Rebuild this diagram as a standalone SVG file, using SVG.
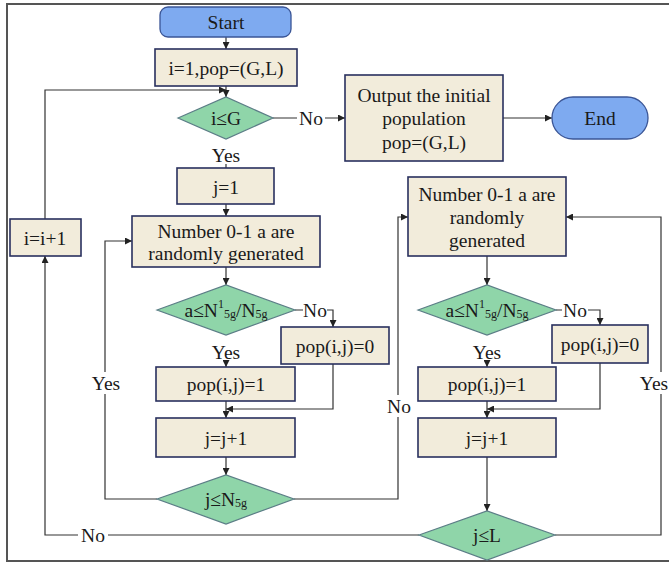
<svg xmlns="http://www.w3.org/2000/svg" width="669" height="563" viewBox="0 0 669 563">
<style>
text{font-family:"Liberation Serif","Times New Roman",serif;font-size:19.5px;fill:#1a1a1a;text-anchor:middle;dominant-baseline:central}
.term{fill:#7eaaf0;stroke:#3a5596;stroke-width:1.3}
.box{fill:#f2ecdb;stroke:#28305e;stroke-width:1.6}
.dec{fill:#8fd5a9;stroke:#5b7d86;stroke-width:1.2}
.ln{fill:none;stroke:#333;stroke-width:1.2}
.lbl{fill:#fff}
.sub{font-size:12px}
</style>
<defs>
<marker id="ah" viewBox="0 0 10 10" refX="10" refY="5" markerWidth="7" markerHeight="7" markerUnits="userSpaceOnUse" orient="auto"><path d="M0,0 L10,5 L0,10 z" fill="#222"/></marker>
</defs>
<rect width="669" height="563" fill="#fff"/>
<path d="M669,4 H7 V561 H669" fill="none" stroke="#555" stroke-width="2"/>

<g id="connectors">
<path class="ln" d="M226,37 V49" marker-end="url(#ah)"/>
<path class="ln" d="M226,86 V97" marker-end="url(#ah)"/>
<path class="ln" d="M45,219 V90 H226" marker-end="url(#ah)"/>
<path class="ln" d="M273,118 H297 M325,118 H345" marker-end="url(#ah)"/>
<path class="ln" d="M503,118 H552" marker-end="url(#ah)"/>
<path class="ln" d="M226,164 V168"/>
<path class="ln" d="M226,204 V216" marker-end="url(#ah)"/>
<path class="ln" d="M226,267 V285" marker-end="url(#ah)"/>
<path class="ln" d="M295,310 H303 M327,310 H333 V327" marker-end="url(#ah)"/>
<path class="ln" d="M226,364 V367" marker-end="url(#ah)"/>
<path class="ln" d="M333,364 V409 H226" marker-end="url(#ah)"/>
<path class="ln" d="M226,401 V418" marker-end="url(#ah)"/>
<path class="ln" d="M226,457 V475" marker-end="url(#ah)"/>
<path class="ln" d="M157,499 H105 V241 H132" marker-end="url(#ah)"/>
<path class="ln" d="M294,499 H398 V217 H408" marker-end="url(#ah)"/>
<path class="ln" d="M487,256 V285" marker-end="url(#ah)"/>
<path class="ln" d="M556,310 H562 M588,310 H600 V325" marker-end="url(#ah)"/>
<path class="ln" d="M487,364 V367" marker-end="url(#ah)"/>
<path class="ln" d="M600,363 V409 H487" marker-end="url(#ah)"/>
<path class="ln" d="M487,401 V418" marker-end="url(#ah)"/>
<path class="ln" d="M487,457 V511" marker-end="url(#ah)"/>
<path class="ln" d="M419,535 H45 V256" marker-end="url(#ah)"/>
<path class="ln" d="M555,535 H661 V217 H566" marker-end="url(#ah)"/>
<text x="311" y="118">No</text>
<text x="226" y="155">Yes</text>
<text x="315" y="310">No</text>
<text x="226" y="352">Yes</text>
<rect class="lbl" x="92" y="372" width="28" height="22"/>
<text x="106" y="383">Yes</text>
<rect class="lbl" x="385" y="395" width="27" height="22"/>
<text x="399" y="406">No</text>
<text x="575" y="310">No</text>
<text x="487" y="352">Yes</text>
<rect class="lbl" x="78" y="524" width="30" height="22"/>
<text x="93" y="535">No</text>
<rect class="lbl" x="640" y="372" width="29" height="22"/>
<text x="654" y="383">Yes</text>
</g>

<g id="start"><rect class="term" x="160" y="7" width="131" height="30" rx="8"/><text x="226" y="22">Start</text></g>
<g id="init"><rect class="box" x="155" y="49" width="142" height="37"/><text x="226" y="68">i=1,pop=(G,L)</text></g>
<g id="cond-i"><path class="dec" d="M178,118 L226,97 L273,118 L226,139 z"/><text x="226" y="118">i≤G</text></g>
<g id="output"><rect class="box" x="345" y="75" width="158" height="86"/><text x="424" y="95">Output the initial</text><text x="424" y="118">population</text><text x="424" y="142">pop=(G,L)</text></g>
<g id="end"><rect class="term" x="552" y="97" width="96" height="42" rx="21"/><text x="600" y="118">End</text></g>
<g id="j1"><rect class="box" x="177" y="168" width="97" height="36"/><text x="226" y="187">j=1</text></g>
<g id="inc-i"><rect class="box" x="10" y="219" width="71" height="37"/><text x="45" y="238">i=i+1</text></g>
<g id="rand-left"><rect class="box" x="132" y="216" width="188" height="51"/><text x="226" y="231">Number 0-1 a are</text><text x="226" y="253">randomly generated</text></g>
<g id="cond-a-left"><path class="dec" d="M157,310 L226,285 L295,310 L226,335 z"/><text x="226" y="310">a≤N<tspan class="sub" dy="-6">1</tspan><tspan class="sub" dy="10">5g</tspan><tspan dy="-4">/N</tspan><tspan class="sub" dy="4">5g</tspan></text></g>
<g id="pop0-left"><rect class="box" x="281" y="327" width="108" height="37"/><text x="335" y="346">pop(i,j)=0</text></g>
<g id="pop1-left"><rect class="box" x="156" y="367" width="139" height="34"/><text x="226" y="384">pop(i,j)=1</text></g>
<g id="incj-left"><rect class="box" x="156" y="418" width="139" height="39"/><text x="226" y="438">j=j+1</text></g>
<g id="cond-jN"><path class="dec" d="M157,499 L226,475 L294,499 L226,524 z"/><text x="226" y="499">j≤N<tspan class="sub" dy="4">5g</tspan></text></g>
<g id="rand-right"><rect class="box" x="408" y="177" width="158" height="79"/><text x="487" y="194">Number 0-1 a are</text><text x="487" y="217">randomly</text><text x="487" y="240">generated</text></g>
<g id="cond-a-right"><path class="dec" d="M418,310 L487,285 L556,310 L487,335 z"/><text x="487" y="310">a≤N<tspan class="sub" dy="-6">1</tspan><tspan class="sub" dy="10">5g</tspan><tspan dy="-4">/N</tspan><tspan class="sub" dy="4">5g</tspan></text></g>
<g id="pop0-right"><rect class="box" x="552" y="325" width="96" height="38"/><text x="600" y="344">pop(i,j)=0</text></g>
<g id="pop1-right"><rect class="box" x="418" y="367" width="138" height="34"/><text x="487" y="384">pop(i,j)=1</text></g>
<g id="incj-right"><rect class="box" x="418" y="418" width="138" height="39"/><text x="487" y="438">j=j+1</text></g>
<g id="cond-jL"><path class="dec" d="M419,535 L487,511 L555,535 L487,560 z"/><text x="487" y="535">j≤L</text></g>
</svg>
